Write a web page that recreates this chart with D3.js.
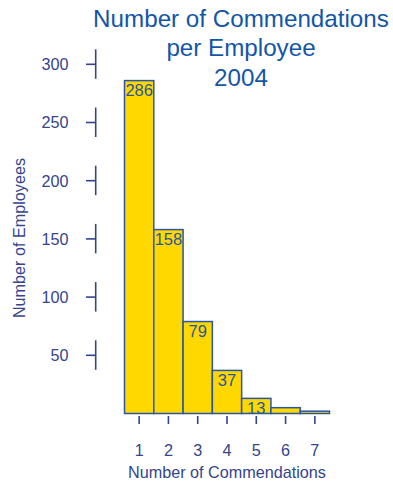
<!DOCTYPE html>
<html>
<head>
<meta charset="utf-8">
<script src="https://cdn.jsdelivr.net/npm/d3@7"></script>
<style>
  html, body { margin: 0; padding: 0; background: #fff; }
  svg { display: block; font-family: "Liberation Sans", Arial, sans-serif; }
</style>
</head>
<body>
<script>
// Histogram: commendations received per employee, 2004
const commendations = [1, 2, 3, 4, 5, 6, 7];
const employees = [286, 158, 79, 37, 13, 5, 2];
const yTicks = [50, 100, 150, 200, 250, 300];
const titleLines = ["Number of Commendations", "per Employee", "2004"];
const xTitle = "Number of Commendations";
const yTitle = "Number of Employees";

const W = 393, H = 482;
const svg = d3.select("body").append("svg").attr("width", W).attr("height", H);

const axisColor = "#34448f";
const titleColor = "#1356a8";
const barStroke = "#2856a4";
const barFill = "#ffd800";
const labelSize = 16.2;

const x = d3.scaleBand().domain(commendations).range([124.5, 329.5]).padding(0);
const y = d3.scaleLinear().domain([0, 300]).range([413.5, 64.3]);

// Title
svg.append("g").selectAll("text").data(titleLines).join("text")
  .attr("x", 241).attr("y", (d, i) => 27 + i * 29.3)
  .attr("text-anchor", "middle")
  .attr("fill", titleColor)
  .attr("font-size", 24.2)
  .text(d => d);

// Y axis: short vertical segment and outward tick at each value
const yAxis = svg.append("g");
yTicks.forEach(v => {
  const yy = y(v);
  yAxis.append("line").attr("x1", 95.7).attr("x2", 95.7)
    .attr("y1", yy - 15).attr("y2", yy + 14.5)
    .attr("stroke", axisColor).attr("stroke-width", 1.6);
  yAxis.append("line").attr("x1", 86).attr("x2", 95.7)
    .attr("y1", yy).attr("y2", yy)
    .attr("stroke", axisColor).attr("stroke-width", 1.6);
  yAxis.append("text").attr("x", 68.5).attr("y", yy + 5.8)
    .attr("text-anchor", "end").attr("fill", axisColor)
    .attr("font-size", labelSize).text(v);
});

svg.append("text")
  .attr("transform", "translate(25,238) rotate(-90)")
  .attr("text-anchor", "middle").attr("fill", axisColor)
  .attr("font-size", labelSize).text(yTitle);

// Bars
svg.append("g").selectAll("rect").data(employees).join("rect")
  .attr("x", (d, i) => x(commendations[i]))
  .attr("y", d => y(d))
  .attr("width", x.bandwidth())
  .attr("height", d => y(0) - y(d))
  .attr("fill", barFill)
  .attr("stroke", barStroke)
  .attr("stroke-width", 1.5);

// Value labels inside the top of each tall enough bar
svg.append("g").selectAll("text").data(employees.map((v, i) => ({ v, c: commendations[i] })).filter(d => d.v >= 10))
  .join("text")
  .attr("x", d => x(d.c) + x.bandwidth() / 2)
  .attr("y", d => y(d.v) + 15.5)
  .attr("text-anchor", "middle")
  .attr("fill", barStroke)
  .attr("font-size", 16.5)
  .text(d => d.v);

// X axis ticks and labels
const xAxis = svg.append("g");
commendations.forEach(c => {
  const cx = x(c) + x.bandwidth() / 2;
  xAxis.append("line").attr("x1", cx).attr("x2", cx)
    .attr("y1", 416).attr("y2", 424)
    .attr("stroke", axisColor).attr("stroke-width", 1.6);
  xAxis.append("text").attr("x", cx).attr("y", 456)
    .attr("text-anchor", "middle").attr("fill", axisColor)
    .attr("font-size", labelSize).text(c);
});

svg.append("text")
  .attr("x", 227).attr("y", 477.5)
  .attr("text-anchor", "middle").attr("fill", axisColor)
  .attr("font-size", labelSize).text(xTitle);
</script>
</body>
</html>
